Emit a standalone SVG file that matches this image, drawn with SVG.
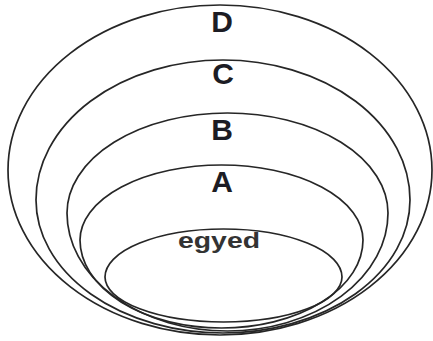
<svg xmlns="http://www.w3.org/2000/svg" width="433" height="341" viewBox="0 0 433 341">
  <style>
    .ring { fill: none; stroke: #262626; stroke-width: 1.7; }
    .lvl { font-family: "Liberation Sans", Arial, sans-serif; font-weight: bold; font-size: 30px; fill: #1c1c24; text-anchor: middle; }
    .core { font-family: "Liberation Sans", Arial, sans-serif; font-weight: bold; font-size: 22px; fill: #333333; text-anchor: middle; }
  </style>
  <rect width="433" height="341" fill="#ffffff"/>
  <g id="level-D">
    <path class="ring" d="M8,170 A212,165 0 0 1 432,170 A212,165 0 0 1 8,170Z"/>
    <text class="lvl" x="222" y="32">D</text>
  </g>
  <g id="level-C">
    <path class="ring" d="M36,200 A187,140 0 0 1 410,200 A187,133 0 0 1 36,200Z"/>
    <text class="lvl" x="223" y="84">C</text>
  </g>
  <g id="level-B">
    <path class="ring" d="M67,213 A160.5,100 0 0 1 388,213 A160.5,118 0 0 1 67,213Z"/>
    <text class="lvl" x="222" y="140">B</text>
  </g>
  <g id="level-A">
    <path class="ring" d="M80,240 A141.5,75 0 0 1 363,240 A141.5,88 0 0 1 80,240Z"/>
    <text class="lvl" x="222" y="192">A</text>
  </g>
  <g id="egyed">
    <path class="ring" d="M105,277 A118.5,48 0 0 1 342,277 A118.5,45 0 0 1 105,277Z"/>
    <text class="core" x="219" y="248" textLength="82" lengthAdjust="spacingAndGlyphs">egyed</text>
  </g>
</svg>
